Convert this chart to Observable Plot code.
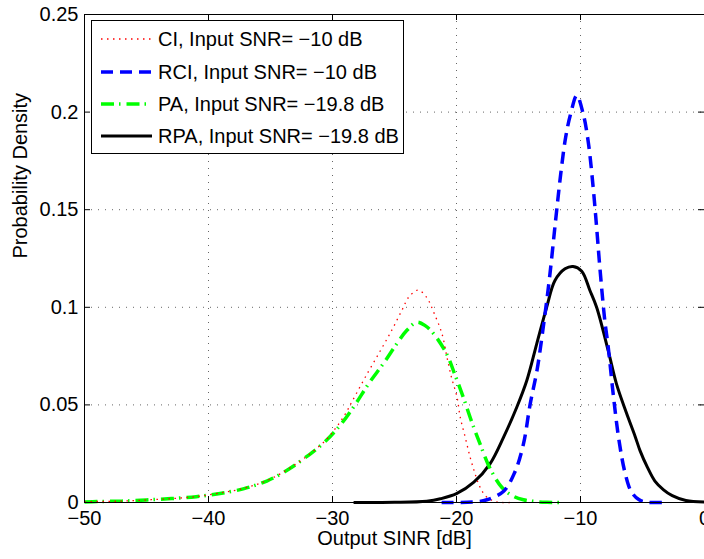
<!DOCTYPE html>
<html><head><meta charset="utf-8">
<script src="https://cdn.jsdelivr.net/npm/d3@7"></script>
<script src="https://cdn.jsdelivr.net/npm/@observablehq/plot@0.6"></script>
<style>body{margin:0;background:#fff;} #chart{width:704px;height:559px;}</style>
</head><body><div id="chart"></div>
<script>
const xTicks = [-50, -40, -30, -20, -10, 0];
const yTicks = [0, 0.05, 0.1, 0.15, 0.2, 0.25];
const xLabel = "Output SINR [dB]";
const yLabel = "Probability Density";
const seriesNames = ["CI, Input SNR= −10 dB", "RCI, Input SNR= −10 dB", "PA, Input SNR= −19.8 dB", "RPA, Input SNR= −19.8 dB"];

const ciX = [-50, -49, -47, -45, -43, -41, -39.2, -37.2, -35.3, -33.6, -32, -30.5, -29.7, -29.0, -28.4, -27.2, -26.1, -25.2, -24.4, -23.85, -23.1, -22.4, -21.84, -21.17, -20.77, -20.4, -19.96, -19.7, -19.3, -18.9, -18.5, -18.1, -17.55, -16.75, -15.7];
const ciY = [0.0003, 0.0005, 0.0007, 0.0013, 0.002, 0.003, 0.0047, 0.0072, 0.0112, 0.017, 0.024, 0.0322, 0.0385, 0.045, 0.052, 0.066, 0.0782, 0.0885, 0.0985, 0.1052, 0.1088, 0.105, 0.0975, 0.0864, 0.0745, 0.064, 0.054, 0.0437, 0.0335, 0.0232, 0.0147, 0.0078, 0.0027, 0.0003, 0];

const rciX = [-21.2, -18.5, -17.55, -16.2, -15.3, -14.6, -14.07, -13.5, -13.0, -12.5, -12.0, -11.6, -11.2, -10.8, -10.3, -9.78, -9.38, -8.98, -8.7, -8.44, -8.04, -7.77, -7.37, -6.9, -6.4, -5.9, -5.3, -4.7, -3.2];
const rciY = [0, 0.0003, 0.0014, 0.0058, 0.0155, 0.03, 0.05, 0.068, 0.09, 0.115, 0.145, 0.168, 0.187, 0.199, 0.2085, 0.199, 0.185, 0.1615, 0.141, 0.1205, 0.0932, 0.08, 0.056, 0.032, 0.015, 0.0055, 0.0015, 0.0002, 0];

const paX = [-50, -49, -47, -45, -43, -41, -39.2, -37.2, -35.3, -33.6, -32.15, -30.55, -29.2, -28.14, -27.07, -25.86, -24.8, -24.0, -23.2, -22.5, -21.84, -20.8, -20.1, -19.43, -18.76, -18.1, -17.3, -16.35, -15.5, -14.6, -13.5, -12.7, -11.7];
const paY = [0.0003, 0.0005, 0.0007, 0.0013, 0.002, 0.003, 0.0045, 0.007, 0.011, 0.0168, 0.0232, 0.0315, 0.041, 0.0505, 0.061, 0.0715, 0.0815, 0.0882, 0.0924, 0.0905, 0.0864, 0.0762, 0.065, 0.0535, 0.0411, 0.03, 0.0175, 0.0078, 0.0035, 0.0014, 0.0004, 0.0001, 0];

const rpaX = [-28.3, -25, -22.4, -21.3, -20.0, -18.6, -17.3, -16.2, -15.14, -14.33, -13.53, -12.73, -12.06, -11.25, -10.6, -9.9, -9.24, -8.7, -7.77, -7.1, -6.3, -5.6, -5.2, -4.6, -4.0, -3.3, -2.6, -1.5, 0];
const rpaY = [0, 0.0001, 0.0007, 0.0019, 0.0045, 0.0104, 0.0198, 0.0335, 0.0488, 0.0625, 0.0813, 0.1, 0.1137, 0.1197, 0.1209, 0.1185, 0.1086, 0.1, 0.0779, 0.0608, 0.046, 0.034, 0.0266, 0.018, 0.011, 0.0065, 0.0035, 0.001, 0.0002];

const rows = (xs, ys) => xs.map((x, i) => ({x, y: ys[i]}));

const styles = [
  {stroke: "#ff0000", strokeWidth: 1.3, strokeDasharray: "1.5,4.5"},
  {stroke: "#0000ff", strokeWidth: 3.5, strokeDasharray: "12,7"},
  {stroke: "#00ff00", strokeWidth: 3.5, strokeDasharray: "13,5,1.5,6"},
  {stroke: "#000000", strokeWidth: 3, strokeDasharray: null}
];

const W = 704, H = 559, mL = 84, mT = 14, mR = 0, mB = 57;
const innerH = H - mT - mB;
const font = "'Liberation Sans', Arial, Helvetica, sans-serif";
const fmtX = d => d < 0 ? "\u2212" + (-d) : String(d);
const fmtY = d => String(d);

const lineOpts = s => ({x: "x", y: "y", curve: "catmull-rom", strokeLinecap: "butt", strokeLinejoin: "round", ...s});

const plot = Plot.plot({
  width: W, height: H,
  marginLeft: mL, marginTop: mT, marginRight: mR, marginBottom: mB,
  style: {fontFamily: font, fontSize: "20px", color: "#000", background: "#fff", overflow: "visible"},
  x: {domain: [-50, 0], label: null},
  y: {domain: [0, 0.25], label: null},
  marks: [
    Plot.gridX(xTicks.slice(1, -1), {stroke: "#000", strokeOpacity: 0.6, strokeDasharray: "1,6"}),
    Plot.gridY(yTicks.slice(1, -1), {stroke: "#000", strokeOpacity: 0.6, strokeDasharray: "1,6"}),
    Plot.line(rows(rpaX, rpaY), lineOpts(styles[3])),
    Plot.line(rows(paX, paY), lineOpts(styles[2])),
    Plot.line(rows(ciX, ciY), lineOpts(styles[0])),
    Plot.line(rows(rciX, rciY), lineOpts(styles[1])),
    Plot.tickX(xTicks, {x: d => d, insetTop: innerH - 6, stroke: "#000"}),
    Plot.tickX(xTicks, {x: d => d, insetBottom: innerH - 6, stroke: "#000"}),
    Plot.tickY(yTicks, {y: d => d, insetRight: (W - mL - mR) - 6, stroke: "#000"}),
    Plot.tickY(yTicks, {y: d => d, insetLeft: (W - mL - mR) - 6, stroke: "#000"}),
    Plot.frame({stroke: "#000"}),
    Plot.axisX(xTicks, {tickSize: 0, tickPadding: 8, tickFormat: fmtX, label: null, fontSize: 20}),
    Plot.axisY(yTicks, {tickSize: 0, tickPadding: 6, tickFormat: fmtY, label: null, fontSize: 20}),
    Plot.text([xLabel], {frameAnchor: "bottom", dy: 42, fontSize: 20, fill: "#000"}),
    Plot.text([yLabel], {frameAnchor: "left", dx: -64, rotate: -90, fontSize: 20, fill: "#000"})
  ]
});

document.getElementById("chart").appendChild(plot);

// legend box (layout in pixels)
const svg = d3.select(plot);
const lg = svg.append("g").attr("font-family", font).attr("font-size", 20).attr("text-anchor", "start");
lg.append("rect").attr("x", 91.5).attr("y", 20.5).attr("width", 312).attr("height", 133)
  .attr("fill", "#fff").attr("stroke", "#000").attr("stroke-width", 1);
const rowY = [39, 72, 104, 136];
seriesNames.forEach((name, i) => {
  const s = styles[i];
  lg.append("line").attr("x1", 101).attr("x2", 152).attr("y1", rowY[i]).attr("y2", rowY[i])
    .attr("stroke", s.stroke).attr("stroke-width", s.strokeWidth)
    .attr("stroke-dasharray", s.strokeDasharray);
  lg.append("text").attr("x", 158).attr("y", rowY[i] + 7).attr("fill", "#000")
    .attr("text-anchor", "start").text(name);
});
</script>
</body></html>
